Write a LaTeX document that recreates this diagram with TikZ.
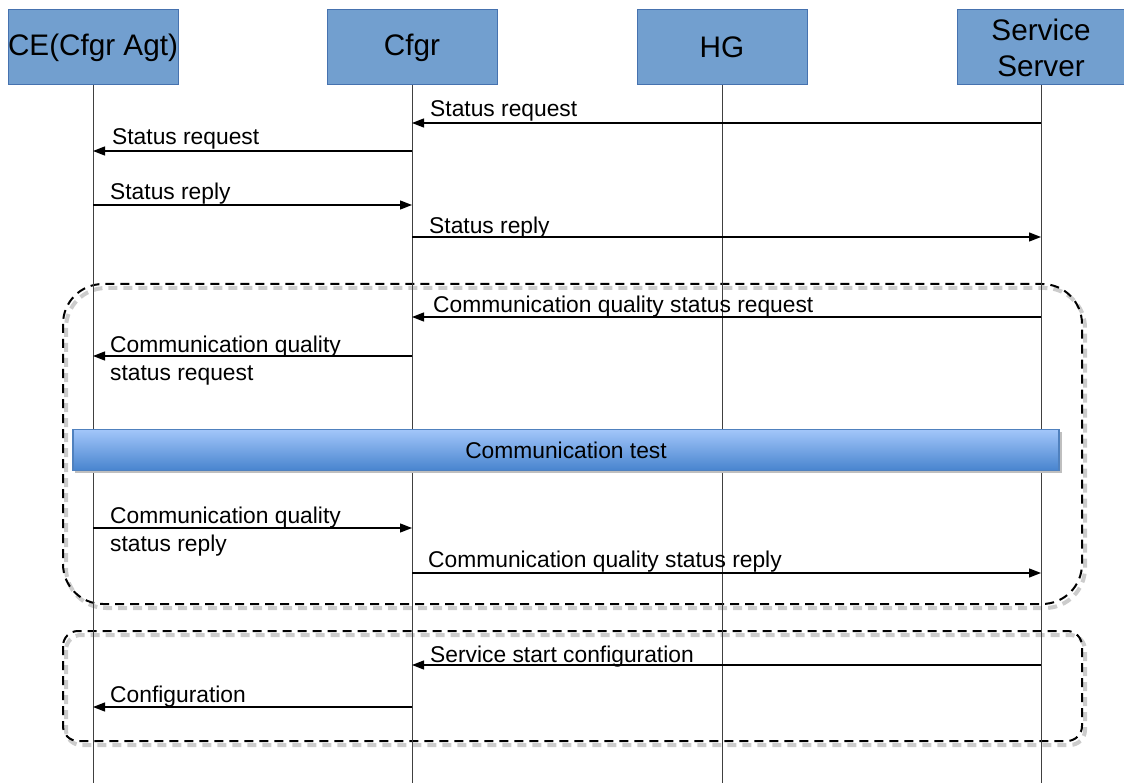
\documentclass[tikz,border=0pt]{standalone}
\usepackage{fontspec}
\setmainfont{Liberation Sans}
\usetikzlibrary{arrows.meta}
\definecolor{hdrfill}{RGB}{114,159,207}
\definecolor{hdrdraw}{RGB}{70,114,175}
\definecolor{bartop}{RGB}{162,198,250}
\definecolor{barbot}{RGB}{72,132,206}
\definecolor{barline}{RGB}{80,129,190}
\begin{document}
\begin{tikzpicture}[x=1pt,y=-1pt,
  actor/.style={draw=hdrdraw, line width=1pt, fill=hdrfill, minimum width=170pt,
    minimum height=75pt, inner sep=0pt, align=center,
    font=\fontsize{29.7}{36}\selectfont},
  lifeline/.style={draw=black!75, line width=1pt},
  msg/.style={draw=black, line width=1.3pt, -{Triangle[length=12pt,width=9pt]}},
  lbl/.style={anchor=base west, inner sep=0pt, align=left,
    font=\fontsize{22.8}{28}\selectfont},
  group/.style={draw=black, line width=2pt, dash pattern=on 9pt off 6pt},
  groupshadow/.style={draw=black!20, line width=4pt, dash pattern=on 9pt off 6pt},
  testbar/.style={draw=barline, line width=1.5pt, top color=bartop, bottom color=barbot,
    minimum width=986pt, minimum height=41pt, inner sep=0pt,
    font=\fontsize{22.8}{28}\selectfont},
]
\useasboundingbox (0,0) rectangle (1124,783);

% participants
\node[actor] (ce) at (93,47.5) {CE(Cfgr Agt)};
\node[actor] (cfgr) at (412,47.5) {Cfgr};
\node[actor] (hg) at (722,47.5) {HG};
\node[actor, minimum width=168pt] (ss) at (1041,47.5) {Service\\Server};

% interaction groups (dashed frames with soft shadow)
\draw[groupshadow, rounded corners=40pt] (66,288) rectangle (1085,608);
\draw[groupshadow, rounded corners=15pt] (66,635) rectangle (1085,745);
\draw[group, rounded corners=40pt] (63,284) rectangle (1082,604);
\draw[group, rounded corners=15pt] (63,631) rectangle (1082,741);

% lifelines
\coordinate (bottom) at (0,783);
\foreach \p in {ce,cfgr,hg,ss}
  \draw[lifeline] (\p.south) -- (\p |- bottom);

% communication test bar
\fill[black!25] (75,432) rectangle (1062,473);
\node[testbar] (test) at (566,450) {Communication test};

% message rows
\coordinate (y1) at (0,123);
\coordinate (y2) at (0,151);
\coordinate (y3) at (0,205);
\coordinate (y4) at (0,237);
\coordinate (y5) at (0,317);
\coordinate (y6) at (0,356);
\coordinate (y7) at (0,528);
\coordinate (y8) at (0,573);
\coordinate (y9) at (0,665);
\coordinate (y10) at (0,707);

\draw[msg] (ss |- y1) -- (cfgr |- y1);
\node[lbl] (l1) at (430,116.5) {Status request};

\draw[msg] (cfgr |- y2) -- (ce |- y2);
\node[lbl] (l2) at (112,145) {Status request};

\draw[msg] (ce |- y3) -- (cfgr |- y3);
\node[lbl] (l3) at (110,199.5) {Status reply};

\draw[msg] (cfgr |- y4) -- (ss |- y4);
\node[lbl] (l4) at (429,233.5) {Status reply};

\draw[msg] (ss |- y5) -- (cfgr |- y5);
\node[lbl] (l5) at (433,312.5) {Communication quality status request};

\draw[msg] (cfgr |- y6) -- (ce |- y6);
\node[lbl] (l6) at (110,380.5) {Communication quality\\status request};

\draw[msg] (ce |- y7) -- (cfgr |- y7);
\node[lbl] (l7) at (110,551.5) {Communication quality\\status reply};

\draw[msg] (cfgr |- y8) -- (ss |- y8);
\node[lbl] (l8) at (428,567.5) {Communication quality status reply};

\draw[msg] (ss |- y9) -- (cfgr |- y9);
\node[lbl] (l9) at (430,662.5) {Service start configuration};

\draw[msg] (cfgr |- y10) -- (ce |- y10);
\node[lbl] (l10) at (110,702.5) {Configuration};
\end{tikzpicture}
\end{document}
